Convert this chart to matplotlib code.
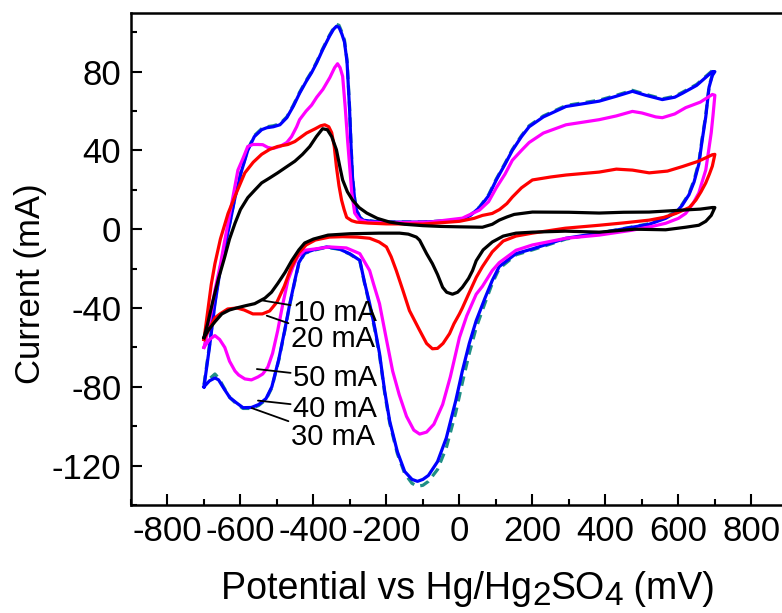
import numpy as np
import matplotlib
matplotlib.use("Agg")
import matplotlib.pyplot as plt
from matplotlib.ticker import MultipleLocator
from matplotlib.transforms import IdentityTransform

plt.rcParams['font.family'] = ['Liberation Sans', 'DejaVu Sans']
plt.rcParams['axes.unicode_minus'] = False

# 10 mA (black) - forward and reverse sweeps
e10_fwd = [-700, -690, -675, -660, -643, -630, -615, -600, -580, -560, -542, -520, -498, -475, -451, -430, -410,
           -392, -375, -362, -350, -337, -328, -320, -307, -293, -275, -254, -225, -191, -150, -100, -50, 0,
           63, 90, 109, 130, 150, 200, 300, 383, 450, 520, 611, 660, 693, 700]
i10_fwd = [-55, -48, -36, -25, -14, -5, 3, 10, 16, 20, 23.5, 26, 28.6, 31.5, 34.5, 38, 42,
           47, 51, 50.5, 47, 40.3, 32, 25, 19, 14.8, 11, 8.2, 5.5, 3.6, 2.5, 1.8, 1.4, 1.2,
           1.0, 2.5, 4.6, 6.2, 7.5, 8.7, 8.6, 8.2, 8.6, 8.7, 9.7, 10.2, 11, 11]
e10_rev = [700, 690, 675, 656, 620, 565, 480, 383, 290, 200, 155, 120, 90, 65, 46, 36, 25, 8, -5, -19, -35, -46,
           -60, -74, -90, -109, -118, -140, -164, -220, -300, -360, -400, -424, -440, -459, -478, -498, -515,
           -533, -561, -585, -607, -630, -651, -670, -689, -700]
i10_rev = [11, 7, 4, 2, 1, -0.3, 0, -1.5, -1, -1.5, -2, -3.5, -6.5, -10.5, -16, -21, -25, -29.5, -32, -33, -32,
           -29.5, -23, -17.5, -12.4, -5.6, -4, -2.5, -2, -2, -2.3, -3, -5, -7, -10.5, -15.8, -22, -27.6, -32,
           -35, -37.8, -38.8, -39.8, -41, -43, -47, -51.5, -55]

# 20 mA (red)
e20_fwd = [-700, -690, -680, -670, -655, -634, -610, -588, -565, -542, -520, -498, -470, -451, -419, -395, -380,
           -369, -358, -350, -343, -337, -330, -323, -316, -309, -295, -282, -250, -200, -100, 0, 40, 63, 90, 110,
           130, 145, 170, 200, 250, 292, 383, 430, 474, 520, 570, 611, 655, 693, 700]
i20_fwd = [-56, -42, -28, -17.5, -5, 8, 19, 28.6, 34, 38, 40.5, 42, 43, 44.5, 48.8, 51, 52.5,
           53, 52, 49, 42, 31.6, 22, 14.8, 10, 6, 4.3, 3.6, 3.1, 2.7, 2.6, 4, 5.5, 7, 8, 10,
           13, 16.3, 21, 25, 26.5, 27.5, 29, 30.5, 30, 28.6, 29.5, 31.8, 34.5, 37.8, 38]
e20_rev = [700, 693, 685, 675, 662, 648, 630, 593, 560, 520, 450, 383, 290, 200, 155, 120, 90, 63, 46, 25, 8, 0,
           -15, -27, -45, -60, -74, -90, -110, -137, -155, -173, -187, -200, -220, -246, -280, -320, -356, -395,
           -420, -440, -462, -480, -500, -520, -540, -566, -590, -610, -635, -656, -670, -684, -700]
i20_rev = [38, 32, 28, 23.5, 19, 14.8, 11, 8, 6, 4.6, 3.2, 2, 0.5, -2, -3.5, -6, -11.5, -19, -24.5, -33, -40, -43,
           -48, -53, -58, -60.5, -60.7, -58, -51, -41.3, -31, -21, -14, -9, -6.5, -4.6, -4, -3.8, -4, -5.5,
           -8, -12, -20, -29, -37, -41.5, -43, -43, -41, -40, -40.5, -43, -45, -50, -56]

# 50 mA (magenta)
e50_fwd = [-700, -690, -680, -670, -655, -643, -625, -607, -593, -580, -566, -552, -539, -525, -511, -492, -473,
           -460, -446, -438, -420, -405, -391, -374, -355, -342, -334, -327, -320, -313, -306, -300, -295, -287,
           -275, -254, -220, -150, -82, 8, 55, 80, 101, 125, 145, 170, 191, 230, 292, 383, 430, 474, 500, 538,
           556, 590, 620, 660, 693, 700]
i50_fwd = [-60, -52, -42, -31, -18, -5.6, 12, 30, 36, 42, 43, 43, 42.9, 41.5, 41, 42, 44,
           47, 52, 55.6, 60, 63, 67, 71, 77, 82, 84, 82, 77.6, 62, 44, 30, 18.4, 8.2,
           5, 3.6, 3.4, 3.4, 3.6, 5.6, 9.7, 14, 21, 28, 35, 40, 44, 48.8, 53, 55.6, 57.5, 59.8, 59, 57,
           56.6, 58.5, 61.7, 64.5, 68.4, 68]
e50_rev = [700, 695, 690, 683, 675, 665, 656, 640, 620, 600, 565, 530, 474, 383, 292, 200, 155, 109, 90, 63, 46,
           20, 0, -25, -46, -70, -90, -109, -125, -145, -165, -183, -200, -219, -235, -246, -273, -310, -356,
           -395, -424, -443, -456, -470, -484, -498, -512, -525, -539, -552, -570, -588, -605, -615, -630, -643,
           -657, -670, -685, -700]
i50_rev = [68, 58, 49, 40, 30, 24, 18.4, 13, 8, 5.5, 3, 1.5, -0.5, -3, -4.6, -8, -10.7, -17, -21, -29, -33,
           -44, -55, -75, -89, -99, -103, -104, -102, -95, -84, -72, -56, -37.8, -28, -21, -12.4, -9.5, -9,
           -10, -10.7, -14, -19, -26, -38, -51.5, -63, -70, -73.5, -75, -76.5, -76, -74, -72, -67, -60,
           -56, -54, -56, -60]

# 40 mA (blue)
e40_fwd = [-700, -685, -670, -655, -643, -629, -615, -598, -580, -562, -542, -528, -510, -492, -473, -455, -438,
           -420, -405, -391, -375, -356, -345, -337, -330, -322, -315, -308, -301, -297, -293, -287, -282, -273,
           -265, -230, -191, -100, 0, 30, 55, 80, 101, 125, 145, 170, 191, 230, 292, 383, 430, 474, 510, 556,
           590, 611, 650, 693, 700]
i40_fwd = [-80, -60, -38, -20, -9, 3, 16, 29, 40, 47, 50.5, 51.5, 52, 53, 56.6, 62.5, 69,
           75, 79.5, 84.5, 91, 98, 101.5, 103, 102.5, 99, 95, 85, 60.7, 42, 26.5, 15, 9.7, 6,
           4.6, 3.8, 3.6, 3.6, 4.5, 7, 11, 17, 25, 33, 40, 47, 52, 57, 62.3, 65, 67.5, 70, 68, 65.8,
           67, 69, 73, 80, 80]
e40_rev = [700, 693, 684, 675, 665, 656, 643, 629, 610, 593, 565, 520, 474, 383, 292, 200, 155, 109, 90, 70, 46,
           27, 8, -10, -36, -60, -85, -100, -115, -130, -150, -170, -191, -205, -219, -232, -246, -260, -273,
           -300, -330, -364, -400, -424, -440, -451, -465, -479, -495, -514, -530, -550, -570, -593, -612, -629,
           -645, -660, -670, -685, -700]
i40_rev = [80, 78, 72, 57, 45, 33, 24, 17.5, 12, 8.5, 5.5, 2.5, 1, -2, -4.6, -10, -12.4, -19, -26, -35, -46.4,
           -58, -72, -87, -106, -118, -125, -127, -128, -127, -123, -113, -97.5, -82, -63, -50, -37.8, -27,
           -15.8, -12.5, -10, -9, -10.5, -12, -17, -26, -38, -51.5, -66, -80, -86, -89, -90.5, -90.6, -88,
           -85.5, -81, -76.5, -75.5, -77, -80]

# 30 mA (dark cyan, dashed) - nearly on top of 40 mA
e30_fwd = [-700, -685, -670, -655, -643, -629, -615, -598, -580, -562, -542, -528, -510, -492, -473, -455, -438,
           -420, -405, -391, -375, -356, -345, -337, -330, -322, -315, -308, -301, -297, -293, -287, -282, -273,
           -265, -230, -191, -100, 0, 30, 55, 80, 101, 125, 145, 170, 191, 230, 292, 383, 430, 474, 510, 556,
           590, 611, 650, 693, 700]
i30_fwd = [-79, -59, -37, -19, -8.5, 3.5, 16.5, 29.5, 40.5, 47.5, 51, 52, 52.5, 53.5, 57, 63, 69.5,
           75.5, 80, 85, 91.5, 98.5, 102, 104, 103.5, 100, 96, 86, 62, 43, 27, 15.5, 10, 6.2,
           4.8, 3.9, 3.7, 3.7, 4.6, 7.2, 11.3, 17.5, 25.5, 33.5, 40.5, 47.5, 52.5, 57.5, 62.8, 65.5, 68, 70.5,
           68.5, 66.2, 67.5, 69.5, 73.5, 80.5, 80.5]
e30_rev = [700, 693, 684, 675, 665, 656, 643, 629, 610, 593, 565, 520, 474, 383, 292, 200, 155, 109, 90, 70, 46,
           27, 8, -10, -36, -60, -85, -100, -115, -130, -150, -170, -191, -205, -219, -232, -246, -260, -273,
           -300, -330, -364, -400, -424, -440, -451, -465, -479, -495, -514, -530, -550, -570, -593, -612, -629,
           -645, -660, -670, -685, -700]
i30_rev = [80.5, 78.5, 72.5, 58, 46, 34, 25, 18, 12.5, 9, 6, 2.8, 1.2, -2, -5, -10.5, -13, -20, -27.5, -37.5,
           -50, -63, -78, -93, -111, -122, -128, -130, -130.5, -129, -124, -114, -98.5, -83, -64, -51, -38.5,
           -27.5, -16, -12.7, -10.2, -9.2, -10.7, -12.3, -17.5, -26.5, -38.5, -52, -66.5, -80.5, -86.5, -89.5,
           -91, -91, -88.5, -85.5, -80.5, -75.5, -73.5, -76, -79]

labels = ["10 mA", "20 mA", "50 mA", "40 mA", "30 mA"]
label_xy = [(-539, -36.2), (-528, -43.9), (-555, -71), (-552, -87), (-569, -90.8)]
label_text_xy = [(-455, -42.3), (-461, -55.6), (-455, -75.5), (-455, -91.3), (-461, -105.6)]

fig = plt.figure(figsize=(7.82, 6.13), dpi=100)
ax = fig.add_axes([0.1675, 0.1762, 0.840, 0.8034])

lw = 2.3
ax.plot(e30_fwd + e30_rev, i30_fwd + i30_rev, color='#1f8f86', lw=lw, ls=(0, (3, 2)), solid_joinstyle='round')
ax.plot(e40_fwd + e40_rev, i40_fwd + i40_rev, color='#0000ff', lw=lw, solid_joinstyle='round')
ax.plot(e50_fwd + e50_rev, i50_fwd + i50_rev, color='#ff00ff', lw=lw, solid_joinstyle='round')
ax.plot(e20_fwd + e20_rev, i20_fwd + i20_rev, color='#ff0000', lw=lw, solid_joinstyle='round')
ax.plot(e10_fwd + e10_rev, i10_fwd + i10_rev, color='#000000', lw=lw, solid_joinstyle='round')

for lab, p, t in zip(labels, label_xy, label_text_xy):
    ax.annotate(lab, xy=p, xytext=t, fontsize=21, ha='left', va='center',
                arrowprops=dict(arrowstyle='-', color='black', lw=1.3, shrinkA=0, shrinkB=0))

ax.set_xlim(-900, 900)
ax.set_ylim(-140, 110)
ax.xaxis.set_major_locator(MultipleLocator(200))
ax.xaxis.set_minor_locator(MultipleLocator(100))
ax.yaxis.set_major_locator(MultipleLocator(40))
ax.yaxis.set_minor_locator(MultipleLocator(20))
ax.tick_params(which='both', direction='in', width=1.5, labelsize=25, top=False, right=False)
ax.tick_params(which='major', length=8, pad=7)
ax.tick_params(which='minor', length=4)
for s in ax.spines.values():
    s.set_linewidth(1.8)

ax.set_ylabel("Current (mA)", fontsize=25)
ax.yaxis.set_label_coords(-0.128, 0.45)

# x label with large subscripts, built from pieces
fig.canvas.draw()
rend = fig.canvas.get_renderer()
pieces = [("Potential vs Hg/Hg", 27, 0), ("2", 24, -6), ("SO", 27, 0), ("4", 24, -6), (" (mV)", 27, 0)]
texts = []
for s, fs, dy in pieces:
    t = fig.text(0, 0, s, fontsize=fs, transform=IdentityTransform(), va='baseline', ha='left')
    texts.append((t, dy))
widths = [t.get_window_extent(rend).width for t, dy in texts]
x0 = 468 - sum(widths) / 2
base = 613 - 599
for (t, dy), w in zip(texts, widths):
    t.set_position((x0, base + dy))
    x0 += w

fig.savefig("out.png", dpi=100)
